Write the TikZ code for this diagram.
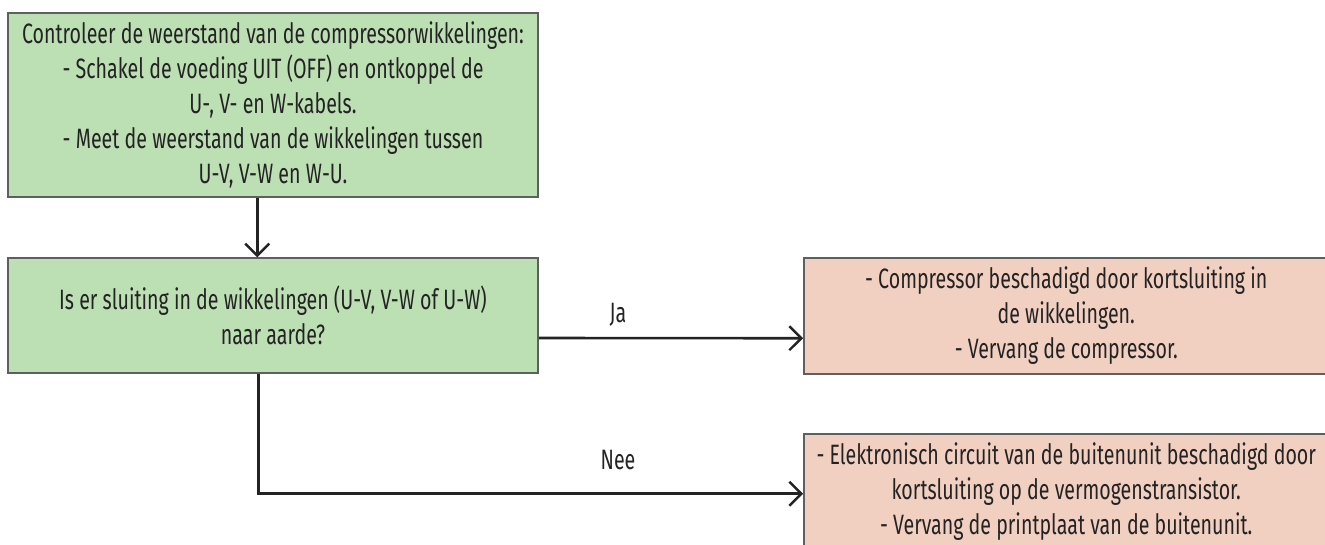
\documentclass[tikz,border=0pt]{standalone}
\usepackage{fontspec}
\setmainfont{Fira Sans}[FakeStretch=0.7]
\usetikzlibrary{arrows.meta}
\definecolor{boxgreen}{RGB}{189,223,180}
\definecolor{boxsalmon}{RGB}{241,208,193}
\definecolor{edgegray}{RGB}{95,95,95}
\definecolor{linedark}{RGB}{35,35,35}
\tikzset{
  flowbox/.style={draw=edgegray, line width=1.5pt, inner sep=0pt, align=center,
    font=\fontsize{28}{35}\selectfont, text=linedark},
  greenbox/.style={flowbox, fill=boxgreen},
  redbox/.style={flowbox, fill=boxsalmon},
  conn/.style={draw=linedark, line width=2.6pt, -{Straight Barb[length=12pt,width=24pt,line width=2.4pt]}},
  lbl/.style={font=\fontsize{28}{30}\selectfont, text=linedark, inner sep=0pt}
}
\begin{document}
\begin{tikzpicture}[x=1pt,y=-1pt]
\useasboundingbox (0,0) rectangle (1325,544);
\node[greenbox, minimum width=530pt, minimum height=184pt] (b1) at (273,105)
  {Controleer de weerstand van de compressorwikkelingen:\\- Schakel de voeding UIT (OFF) en ontkoppel de\\U-, V- en W-kabels.\\- Meet de weerstand van de wikkelingen tussen\\U-V, V-W en W-U.};
\node[greenbox, minimum width=530pt, minimum height=115pt] (b2) at (273,315.5)
  {Is er sluiting in de wikkelingen (U-V, V-W of U-W)\\naar aarde?};
\node[redbox, minimum width=525pt, minimum height=116pt, anchor=north west] (b3) at (803,257)
  {- Compressor beschadigd door kortsluiting in\\de wikkelingen.\\- Vervang de compressor.};
\node[redbox, minimum width=525pt, minimum height=116pt, anchor=north west] (b4) at (803,433)
  {- Elektronisch circuit van de buitenunit beschadigd door\\kortsluiting op de vermogenstransistor.\\- Vervang de printplaat van de buitenunit.};
\draw[conn] ([xshift=250pt]b1.south west) -- ([xshift=250pt]b2.north west);
\draw[conn] ([yshift=-22.5pt]b2.east) -- ([yshift=-22.5pt]b3.west);
\draw[conn] ([xshift=251pt]b2.south west) |- ([yshift=-2pt]b4.west);
\node[lbl] (ja) at (618,315) {Ja};
\node[lbl] (nee) at (618,460) {Nee};
\end{tikzpicture}
\end{document}
